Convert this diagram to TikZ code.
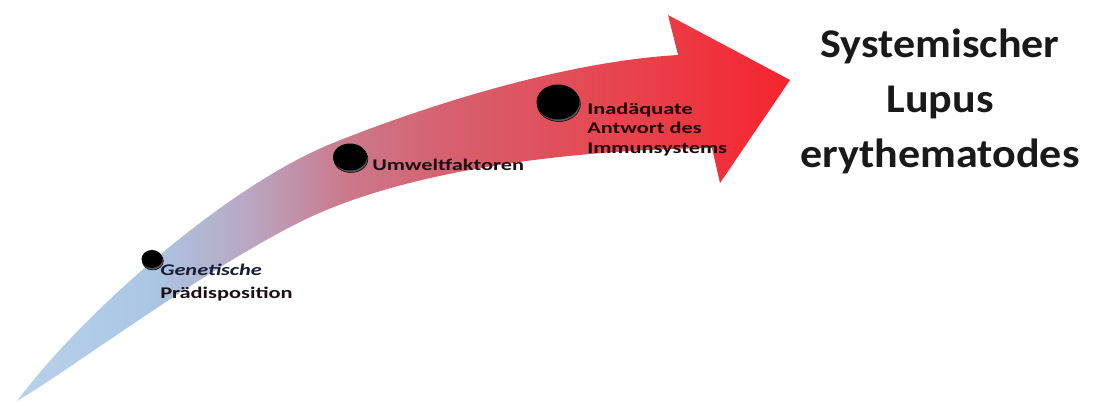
\documentclass[tikz,border=0pt]{standalone}
\usepackage{fontspec}
\setmainfont{Carlito}
\newfontfamily\labelfont[FakeStretch=1.37]{Carlito}
\newfontfamily\titlefont[FakeStretch=1.08]{Carlito}
\usetikzlibrary{shapes.geometric,shadows}

\definecolor{tailblue}{RGB}{185,210,235}
\definecolor{lightblue}{RGB}{170,198,228}
\definecolor{lavender}{RGB}{186,166,193}
\definecolor{rose}{RGB}{203,122,142}
\definecolor{brick}{RGB}{213,98,112}
\definecolor{scarlet}{RGB}{229,72,82}
\definecolor{headred}{RGB}{246,36,46}
\definecolor{navyink}{RGB}{22,30,55}
\definecolor{darkink}{RGB}{28,16,20}
\pgfdeclarehorizontalshading{lupusfade}{100bp}{color(0bp)=(tailblue); color(25bp)=(tailblue);
  color(33.7bp)=(lightblue); color(40.2bp)=(lavender); color(46bp)=(rose);
  color(52.4bp)=(brick); color(62.7bp)=(scarlet); color(75bp)=(headred); color(100bp)=(headred)}

\begin{document}
\begin{tikzpicture}[x=0.025cm, y=-0.025cm,
  disc/.style={ellipse, fill=black, inner sep=0pt,
    copy shadow={shadow xshift=0.6pt, shadow yshift=-1.4pt, fill=black!65}},
  lbl/.style={inner sep=0pt, align=left, text=darkink,
    font=\labelfont\bfseries\fontsize{11.6}{13.9}\selectfont},
  title/.style={inner sep=0pt, align=center, text=black!90,
    font=\titlefont\bfseries\fontsize{29}{39.1}\selectfont}]
\useasboundingbox (0,0) rectangle (1097,403);

% curved arrow
\shade[shading=lupusfade]
  (17,401) .. controls (85,310) and (230,184) .. (333,143)
  .. controls (420,108) and (560,62) .. (678,55)
  -- (668,15) -- (790,80) -- (720,183) -- (712,148)
  .. controls (560,150) and (400,172) .. (300,222)
  .. controls (200,272) and (70,370) .. cycle;

% stages
\node[disc, minimum width=0.525cm, minimum height=0.45cm] (gen) at (152,259) {};
\node[disc, minimum width=0.85cm, minimum height=0.675cm] (umw) at (350,157) {};
\node[disc, minimum width=1.075cm, minimum height=0.875cm] (imm) at (558,102) {};

\node[lbl, anchor=west, font=\labelfont\bfseries\fontsize{11.6}{16.4}\selectfont]
  (genlbl) at (160,282.4) {\textcolor{navyink}{\itshape Genetische}\\Prädisposition};
\node[lbl, anchor=base west] (umwlbl) at (372,170) {Umweltfaktoren};
\node[lbl, anchor=west, text=darkink!80!red!40!black] (immlbl) at (587,129.5)
  {Inadäquate\\Antwort des\\Immunsystems};

% outcome
\node[title] (sle) at (940,101.5) {Systemischer\\Lupus\\erythematodes};
\end{tikzpicture}
\end{document}
